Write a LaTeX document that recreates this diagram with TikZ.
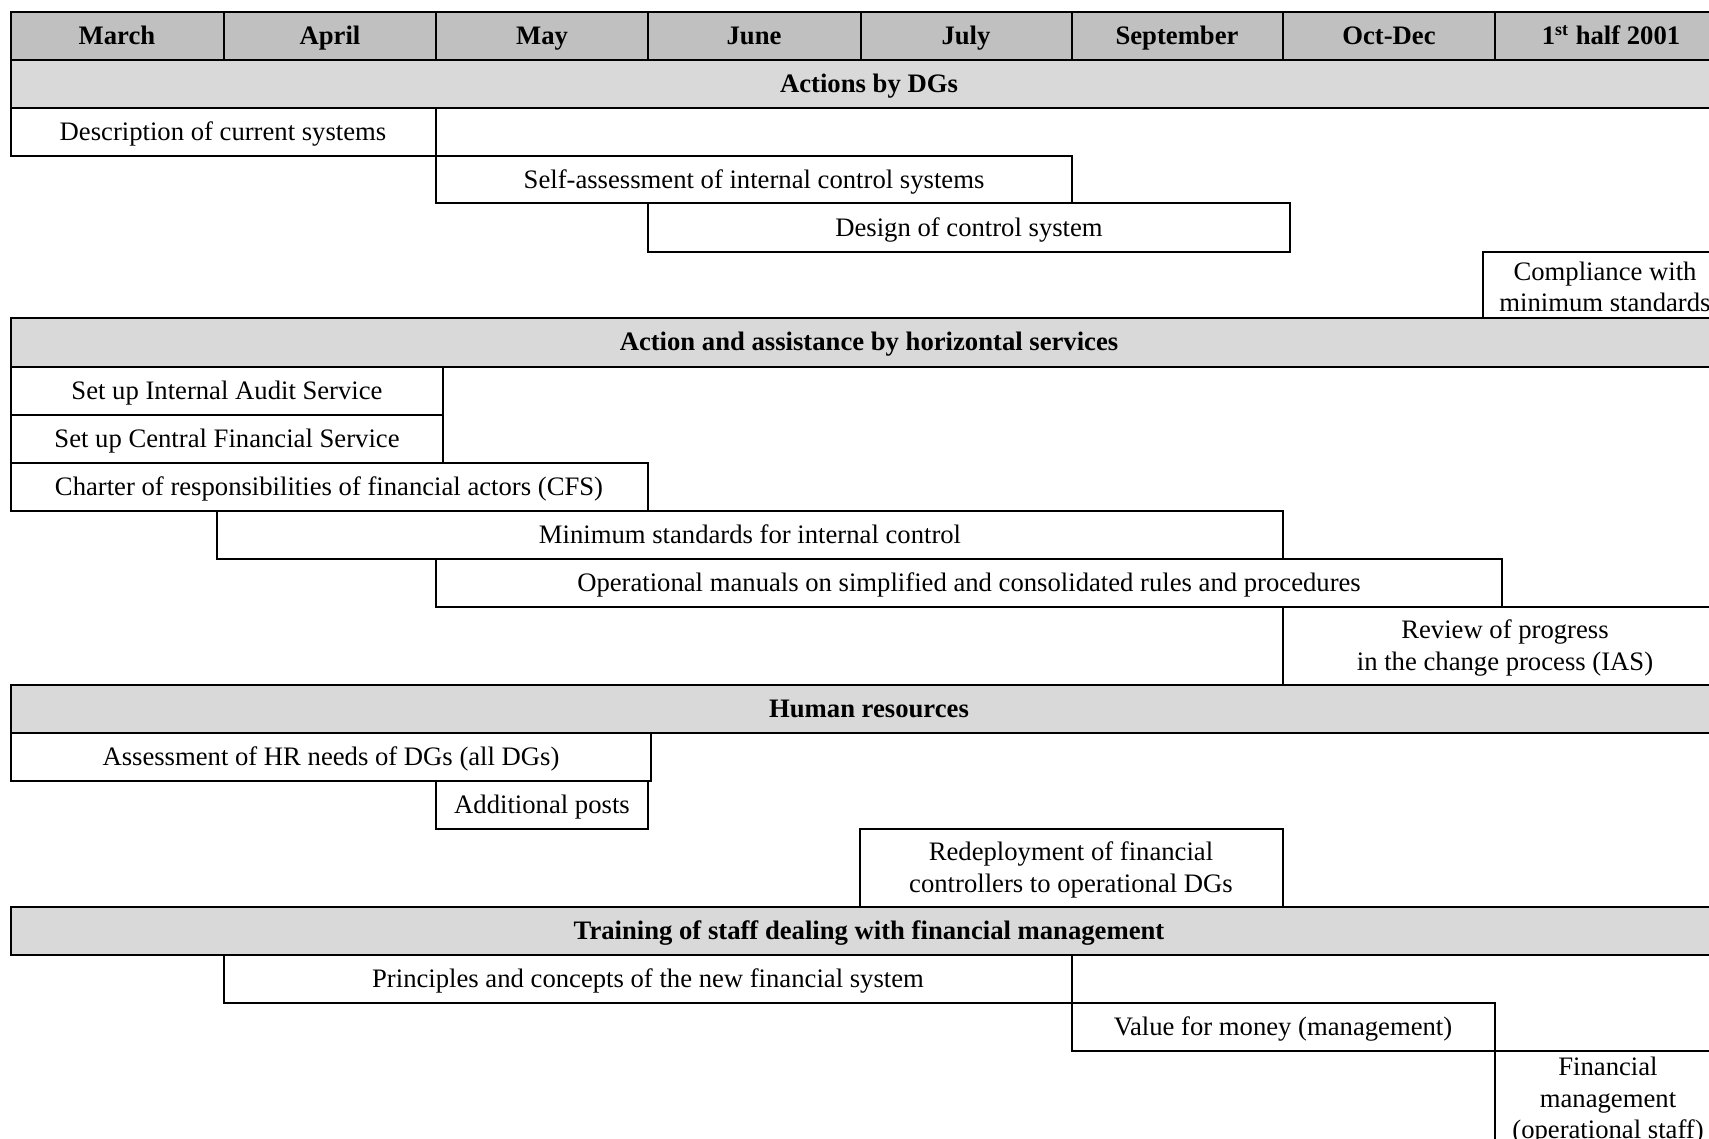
\documentclass[tikz,border=0pt]{standalone}
\usepackage{fontspec}
\setmainfont{Liberation Serif}
\definecolor{monthgray}{RGB}{192,192,192}
\definecolor{rowgray}{RGB}{217,217,217}

\begin{document}
\begin{tikzpicture}[x=0.45pt,y=-0.45pt,line width=0.8pt,
  font=\fontsize{12}{14.2}\selectfont,
  every node/.style={text height=10pt,text depth=2pt},
  head/.style={font=\fontsize{12}{14.2}\selectfont\bfseries},
  task/.style={align=center,text height=,text depth=}]
\clip (0,0) rectangle (1709,1139);
% months
\filldraw[fill=monthgray] (11, 12) rectangle (224, 60);
\filldraw[fill=monthgray] (224, 12) rectangle (436, 60);
\filldraw[fill=monthgray] (436, 12) rectangle (648, 60);
\filldraw[fill=monthgray] (648, 12) rectangle (861, 60);
\filldraw[fill=monthgray] (861, 12) rectangle (1072, 60);
\filldraw[fill=monthgray] (1072, 12) rectangle (1283, 60);
\filldraw[fill=monthgray] (1283, 12) rectangle (1495, 60);
\filldraw[fill=monthgray] (1495, 12) rectangle (1727, 60);
\node[head] (mar) at (117, 36) {March};
\node[head] (apr) at (330, 36) {April};
\node[head] (may) at (542, 36) {May};
\node[head] (jun) at (754, 36) {June};
\node[head] (jul) at (966, 36) {July};
\node[head] (sep) at (1177, 36) {September};
\node[head] (oct) at (1389, 36) {Oct-Dec};
\node[head] (half) at (1611, 36) {1\textsuperscript{st} half 2001};
% actions by DGs
\filldraw[fill=rowgray] (11, 60) rectangle (1727, 108);
\node[head] (dgs) at (869, 84) {Actions by DGs};
\draw (11, 108) rectangle (436, 156);
\draw (436, 156) rectangle (1072, 203);
\draw (648, 203) rectangle (1290, 252);
\draw (1483, 252) rectangle (1727, 318);
\node (descr) at (223, 132) {Description of current systems};
\node (self) at (754, 180) {Self-assessment of internal control systems};
\node (design) at (969, 228) {Design of control system};
\node[task] (compl) at (1605, 287) {Compliance with\\minimum standards};
% horizontal services
\filldraw[fill=rowgray] (11, 318) rectangle (1727, 367);
\node[head] (horiz) at (869, 342) {Action and assistance by horizontal services};
\draw (11, 367) rectangle (443, 415);
\draw (11, 415) rectangle (443, 463);
\draw (11, 463) rectangle (648, 511);
\draw (217, 511) rectangle (1283, 559);
\draw (436, 559) rectangle (1502, 607);
\draw (1283, 607) rectangle (1727, 685);
\node (ias) at (227, 391) {Set up Internal Audit Service};
\node (cfs) at (227, 439) {Set up Central Financial Service};
\node (charter) at (329, 487) {Charter of responsibilities of financial actors (CFS)};
\node (minstd) at (750, 535) {Minimum standards for internal control};
\node (manuals) at (969, 583) {Operational manuals on simplified and consolidated rules and procedures};
\node[task] (review) at (1505, 648) {Review of progress\\in the change process (IAS)};
% human resources
\filldraw[fill=rowgray] (11, 685) rectangle (1727, 733);
\node[head] (hr) at (869, 709) {Human resources};
\draw (11, 733) rectangle (651, 781);
\draw (436, 781) rectangle (648, 829);
\draw (860, 829) rectangle (1283, 907);
\node (needs) at (331, 757) {Assessment of HR needs of DGs (all DGs)};
\node (posts) at (542, 805) {Additional posts};
\node[task] (redepl) at (1071, 870) {Redeployment of financial\\controllers to operational DGs};
% training
\filldraw[fill=rowgray] (11, 907) rectangle (1727, 955);
\node[head] (train) at (869, 931) {Training of staff dealing with financial management};
\draw (224, 955) rectangle (1072, 1003);
\draw (1072, 1003) rectangle (1495, 1051);
\draw (1495, 1051) rectangle (1727, 1160);
\node (princ) at (648, 979) {Principles and concepts of the new financial system};
\node (vfm) at (1283, 1027) {Value for money (management)};
\node[task] (finman) at (1608, 1101) {Financial\\management\\(operational staff)};
\end{tikzpicture}
\end{document}
